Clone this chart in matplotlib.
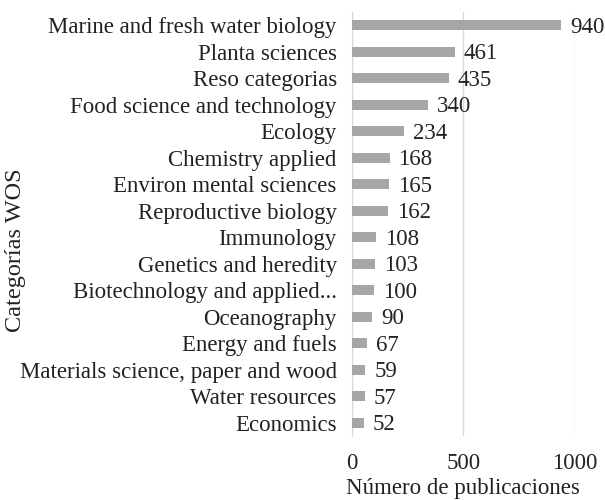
import matplotlib
matplotlib.use("Agg")
import matplotlib.pyplot as plt

categorias = ["Marine and fresh water biology", "Planta sciences", "Reso categorias",
              "Food science and technology", "Ecology", "Chemistry applied",
              "Environ mental sciences", "Reproductive biology", "Immunology",
              "Genetics and heredity", "Biotechnology and applied...", "Oceanography",
              "Energy and fuels", "Materials science, paper and wood",
              "Water resources", "Economics"]
valores = [940, 461, 435, 340, 234, 168, 165, 162, 108, 103, 100, 90, 67, 59, 57, 52]
ticks_x = [0, 500, 1000]

plt.rcParams['font.family'] = ['Liberation Serif', 'DejaVu Serif']
fs = 16.5
col = '#222222'

fig = plt.figure(figsize=(6.05, 5), dpi=100)
ax = fig.add_axes([0.582, 0.128, 0.368, 0.848])

y = list(range(len(categorias)))
ax.barh(y, valores, height=0.37, color='#a6a6a6', zorder=3)
for yi, v in zip(y, valores):
    ax.text(v + 40, yi + 0.08, str(v), va='center', ha='left', fontsize=fs, color=col)

ax.set_yticks(y)
ax.set_yticklabels(categorias, fontsize=fs, color=col)
ax.set_ylim(len(categorias) - 0.5, -0.5)
ax.set_xlim(0, 1000)
ax.set_xticks(ticks_x)
ax.set_xticklabels([str(t) for t in ticks_x], fontsize=fs, color=col)
ax.tick_params(length=0)
ax.tick_params(axis='y', pad=11)
ax.tick_params(axis='x', pad=12)
ax.xaxis.grid(True, color='#d9d9d9', linewidth=1, zorder=0)
for s in ['top', 'right', 'bottom']:
    ax.spines[s].set_visible(False)
ax.spines['left'].set_color('#d9d9d9')
ax.set_xlabel("Número de publicaciones", fontsize=fs, color=col, labelpad=3)
fig.text(0.026, 0.50, "Categorías WOS", rotation=90, va='center', ha='center',
         fontsize=17.5, color=col)

fig.savefig("out.png", dpi=100)
